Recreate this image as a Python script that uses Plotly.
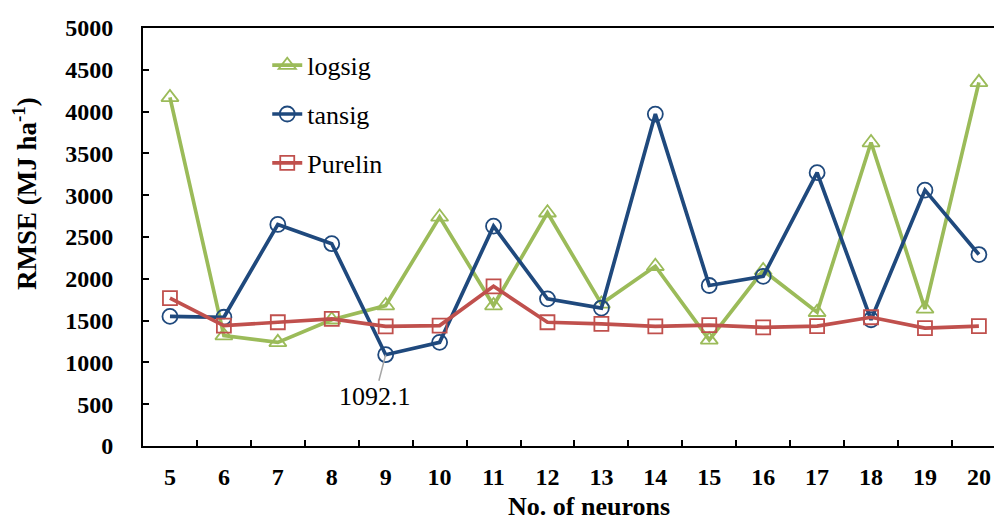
import plotly.graph_objects as go

neurons = ["5", "6", "7", "8", "9", "10", "11", "12", "13", "14", "15", "16", "17", "18", "19", "20"]
logsig = [4170, 1320, 1240, 1510, 1680, 2740, 1680, 2790, 1700, 2150, 1270, 2100, 1600, 3630, 1640, 4350]
tansig = [1550, 1540, 2650, 2420, 1092.1, 1240, 2630, 1760, 1650, 3970, 1920, 2030, 3270, 1510, 3060, 2290]
purelin = [1770, 1440, 1480, 1520, 1430, 1440, 1910, 1480, 1460, 1430, 1445, 1420, 1435, 1540, 1410, 1435]
y_ticks = [0, 500, 1000, 1500, 2000, 2500, 3000, 3500, 4000, 4500, 5000]

GREEN = "#9BBB59"
BLUE = "#1F497D"
RED = "#C0504D"
SERIF = "Liberation Serif"

fig = go.Figure()
series = [
    ("logsig", logsig, GREEN, "triangle-up-open", 15),
    ("tansig", tansig, BLUE, "circle-open", 15),
    ("Purelin", purelin, RED, "square-open", 14),
]
for name, vals, col, sym, sz in series:
    fig.add_trace(go.Scatter(
        x=neurons, y=vals, name=name, legendgroup=name,
        mode="lines+markers",
        line=dict(color=col, width=3.7),
        marker=dict(symbol=sym, size=sz, color=col, line=dict(color=col, width=1.8)),
    ))

fig.add_annotation(
    x=4, y=tansig[4], text="1092.1", showarrow=True, arrowhead=0,
    arrowcolor="#A6A6A6", arrowwidth=1.5, ax=-11, ay=42, standoff=0,
    font=dict(family=SERIF, size=26, color="black"),
)
fig.add_annotation(
    xref="paper", yref="paper", x=(589 - 143) / 851, y=-61 / 418,
    text="<b>No. of neurons</b>", showarrow=False, xanchor="center", yanchor="middle",
    font=dict(family=SERIF, size=26, color="black"),
)
fig.add_annotation(
    xref="paper", yref="paper", x=-118 / 851, y=(446 - 193) / 418,
    text="<b>RMSE (MJ ha<sup>-1</sup>)</b>", showarrow=False, textangle=-90,
    xanchor="center", yanchor="middle",
    font=dict(family=SERIF, size=27, color="black"),
)

fig.update_layout(
    width=994, height=521,
    margin=dict(l=143, r=0, t=28, b=75, autoexpand=False),
    plot_bgcolor="white", paper_bgcolor="white",
    font=dict(family=SERIF, color="black"),
    showlegend=True,
    legend=dict(x=0.146, y=0.967, xanchor="left", yanchor="top",
                bgcolor="rgba(0,0,0,0)", tracegroupgap=12,
                font=dict(family=SERIF, size=26, color="black")),
    xaxis=dict(type="category", range=[-0.5, 15.28], tickson="boundaries",
               ticks="inside", ticklen=6, tickwidth=1.5, tickcolor="black",
               showline=True, linecolor="black", linewidth=2, mirror=True,
               showgrid=False, zeroline=False, ticklabelstandoff=8, automargin=False,
               tickfont=dict(family=SERIF, size=24, color="black", weight="bold")),
    yaxis=dict(range=[0, 5000], tickvals=y_ticks, ticktext=[str(v) for v in y_ticks],
               ticks="inside", ticklen=6, tickwidth=1.5, tickcolor="black",
               showline=True, linecolor="black", linewidth=2,
               showgrid=False, zeroline=False, ticklabelstandoff=23, automargin=False,
               tickfont=dict(family=SERIF, size=24, color="black", weight="bold")),
)

fig.write_html(
    "out.html",
    config={"displayModeBar": False},
    post_script="document.body.style.margin='0';document.body.style.overflow='hidden';",
)
